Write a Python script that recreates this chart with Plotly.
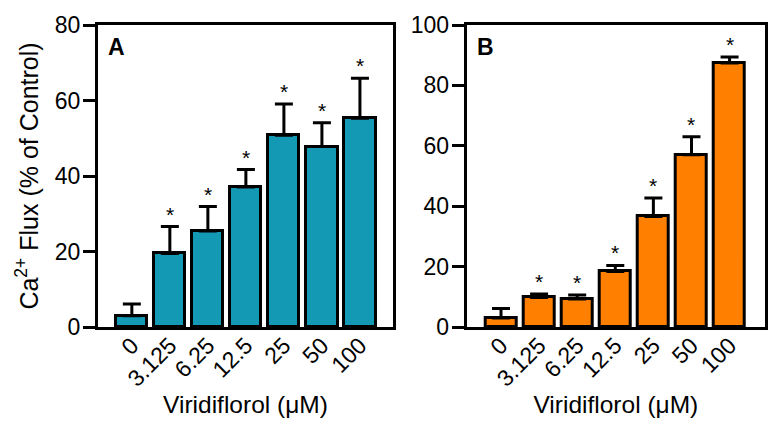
import plotly.graph_objects as go
from plotly.subplots import make_subplots

categories = ["0", "3.125", "6.25", "12.5", "25", "50", "100"]
flux_a = [3.0, 19.5, 25.4, 37.1, 50.8, 47.8, 55.3]
err_a = [3.1, 7.1, 6.5, 4.6, 8.3, 6.3, 10.6]
sig_a = ["", "*", "*", "*", "*", "*", "*"]
flux_b = [3.0, 9.8, 9.3, 18.4, 36.6, 57.0, 87.4]
err_b = [3.1, 1.1, 1.3, 2.0, 6.1, 6.0, 2.0]
sig_b = ["", "*", "*", "*", "*", "*", "*"]
panel_labels = ["A", "B"]
color_a = "#1499B4"
color_b = "#FF8000"

FONT = "Arial, Liberation Sans, Helvetica, sans-serif"

fig = make_subplots(rows=1, cols=2, horizontal_spacing=0.11)

for col, (vals, errs, color) in enumerate([(flux_a, err_a, color_a), (flux_b, err_b, color_b)], start=1):
    fig.add_trace(go.Bar(
        x=categories, y=vals, width=0.82,
        marker=dict(color=color, line=dict(color="black", width=3)),
        error_y=dict(type="data", array=errs, arrayminus=[0]*len(errs), symmetric=False,
                     color="black", thickness=3, width=9),
        showlegend=False,
    ), row=1, col=col)

annotations = []
for axn, vals, errs, sigs in [("", flux_a, err_a, sig_a), ("2", flux_b, err_b, sig_b)]:
    for i, (v, e, s) in enumerate(zip(vals, errs, sigs)):
        if s:
            annotations.append(dict(x=i, y=v + e, xref="x" + axn, yref="y" + axn, text=s,
                                    showarrow=False, yanchor="bottom", yshift=-1,
                                    font=dict(family=FONT, size=21, color="black")))
for axn, lab in [("", panel_labels[0]), ("2", panel_labels[1])]:
    annotations.append(dict(x=0, y=1, xref="x" + axn + " domain", yref="y" + axn + " domain",
                            text="<b>" + lab + "</b>", showarrow=False, xanchor="left", yanchor="top",
                            xshift=8, yshift=-7, font=dict(family=FONT, size=23, color="black")))

fig.update_layout(
    width=780, height=429,
    margin=dict(l=98, r=15, t=25, b=102, autoexpand=False),
    paper_bgcolor="white", plot_bgcolor="white",
    font=dict(family=FONT, size=22, color="black"),
    annotations=annotations,
    bargap=0,
)

common_x = dict(type="category", showline=True, mirror=True, linewidth=3, linecolor="black", ticks="",
                ticklen=0, tickangle=-45, ticklabelstandoff=-7, showgrid=False, zeroline=False,
                automargin=False, tickfont=dict(family=FONT, size=23, color="black"),
                title=dict(text="Viridiflorol (\u03bcM)", font=dict(family=FONT, size=24.5), standoff=0))
fig.update_xaxes(**common_x, domain=[0, 0.4423], range=[-0.89, 6.87], row=1, col=1)
fig.update_xaxes(**common_x, domain=[0.5528, 1], range=[-0.9, 6.93], row=1, col=2)

common_y = dict(showline=True, mirror=True, linewidth=3, linecolor="black", ticks="outside",
                ticklen=12, tickwidth=3, tickcolor="black", ticklabelstandoff=-2, showgrid=False,
                zeroline=False, automargin=False, tickfont=dict(family=FONT, size=23, color="black"))
fig.update_yaxes(**common_y, range=[0, 80], tickvals=[0, 20, 40, 60, 80], row=1, col=1,
                 title=dict(text="Ca<sup>2+</sup> Flux (% of Control)", font=dict(family=FONT, size=25), standoff=10))
fig.update_yaxes(**common_y, range=[0, 100], tickvals=[0, 20, 40, 60, 80, 100], row=1, col=2)

fig.write_html("out.html", config={"displayModeBar": False},
               post_script="document.body.style.margin='0';document.body.style.overflow='hidden';")
